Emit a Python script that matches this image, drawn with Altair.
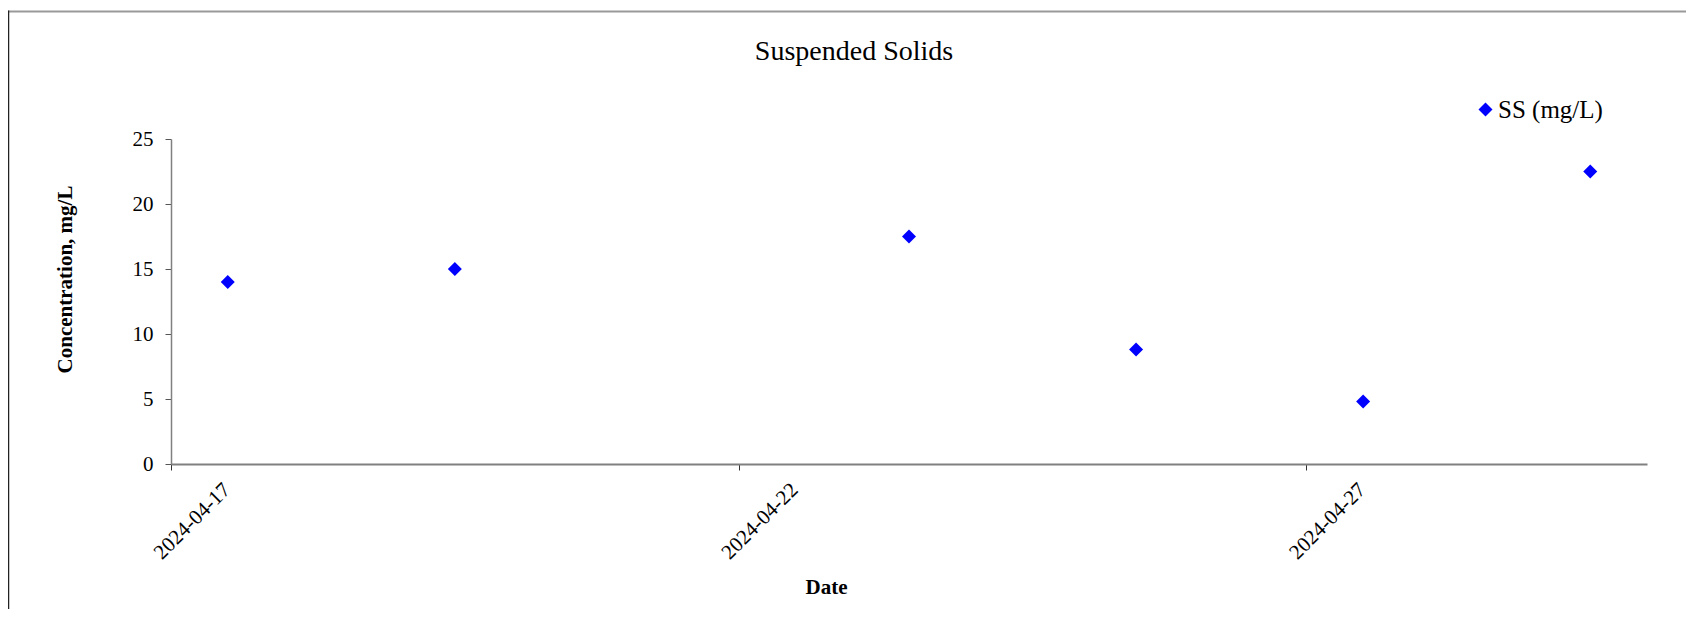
import altair as alt
import pandas as pd

# ---- data ----
dates = [
    "2024-04-17T12:00:00Z",
    "2024-04-19T12:00:00Z",
    "2024-04-23T12:00:00Z",
    "2024-04-25T12:00:00Z",
    "2024-04-27T12:00:00Z",
    "2024-04-29T12:00:00Z",
]
ss_values = [14.0, 15.0, 17.5, 8.8, 4.8, 22.5]
series_name = "SS (mg/L)"
y_ticks = [0, 5, 10, 15, 20, 25]

df = pd.DataFrame({"date": dates, "value": ss_values, "series": series_name})

FONT = "Liberation Serif"

def dt(d):
    return alt.DateTime(year=2024, month=4, date=d, utc=True)

x_enc = alt.X(
    "date:T",
    scale=alt.Scale(type="utc", domain=[dt(17), dt(30)], nice=False),
    axis=alt.Axis(
        title="Date",
        values=[dt(17), dt(22), dt(27)],
        labelExpr="utcFormat(datum.value, '%Y-%m-%d')",
        labelAngle=-45,
        labelAlign="center",
        labelBaseline="middle",
        labelPadding=51,
        labelOffset=21,
        labelFont=FONT,
        labelFontSize=21,
        labelColor="black",
        labelOverlap=False,
        labelFlush=False,
        titleFont=FONT,
        titleFontSize=21,
        titleFontWeight="bold",
        titleColor="black",
        titleX=655,
        titleY=123,
        titleAlign="center",
        titleBaseline="middle",
        domainColor="#808080",
        domainWidth=2,
        tickColor="#333333",
        tickSize=6,
        tickWidth=1,
        grid=False,
    ),
)

y_enc = alt.Y(
    "value:Q",
    scale=alt.Scale(domain=[0, 25], nice=False),
    axis=alt.Axis(
        title="Concentration, mg/L",
        values=y_ticks,
        labelFont=FONT,
        labelFontSize=21,
        labelColor="black",
        labelPadding=12,
        titleFont=FONT,
        titleFontSize=21,
        titleFontWeight="bold",
        titleColor="black",
        titleAngle=270,
        titleX=-106,
        titleY=140,
        titleAlign="center",
        titleBaseline="middle",
        domainColor="#808080",
        domainWidth=1.5,
        tickColor="#555555",
        tickSize=6,
        tickWidth=1,
        grid=False,
    ),
)

points = alt.Chart(df).mark_point(
    shape="diamond", filled=True, size=196, opacity=1
).encode(
    x=x_enc,
    y=y_enc,
    color=alt.Color(
        "series:N",
        scale=alt.Scale(range=["#0000FF"]),
        legend=alt.Legend(
            title=None,
            orient="none",
            legendX=1302,
            legendY=-42,
            symbolType="diamond",
            symbolSize=196,
            symbolOpacity=1,
            symbolStrokeWidth=0,
            labelFont=FONT,
            labelFontSize=25,
            labelColor="black",
            labelOffset=0,
            padding=0,
        ),
    ),
)

# outer frame of the figure (decoration)
frame_df = pd.DataFrame({"k": [0]})
top_border = alt.Chart(frame_df).mark_rule(color="#999999", strokeWidth=2).encode(
    x=alt.value(-163), x2=alt.value(1530), y=alt.value(-127.5)
)
left_border = alt.Chart(frame_df).mark_rule(color="#222222", strokeWidth=1.5).encode(
    x=alt.value(-162.5), y=alt.value(-128.5), y2=alt.value(500)
)

chart = alt.layer(top_border, left_border, points).properties(
    width=1476,
    height=325,
    title=alt.TitleParams(
        "Suspended Solids",
        font=FONT,
        fontSize=28,
        fontWeight="normal",
        color="black",
        anchor="middle",
        frame="group",
        baseline="alphabetic",
        offset=0,
        dy=78,
        dx=-55,
    ),
    autosize=alt.AutoSizeParams(type="none"),
    padding={"left": 163, "top": 131, "right": 39, "bottom": 145},
).configure(
    background="white", font=FONT
).configure_view(strokeWidth=0, stroke="transparent").configure_axis(
    labelFont=FONT, titleFont=FONT
).configure_legend(labelFont=FONT)

chart.save("out.html", embed_options={"renderer": "svg", "actions": False})
